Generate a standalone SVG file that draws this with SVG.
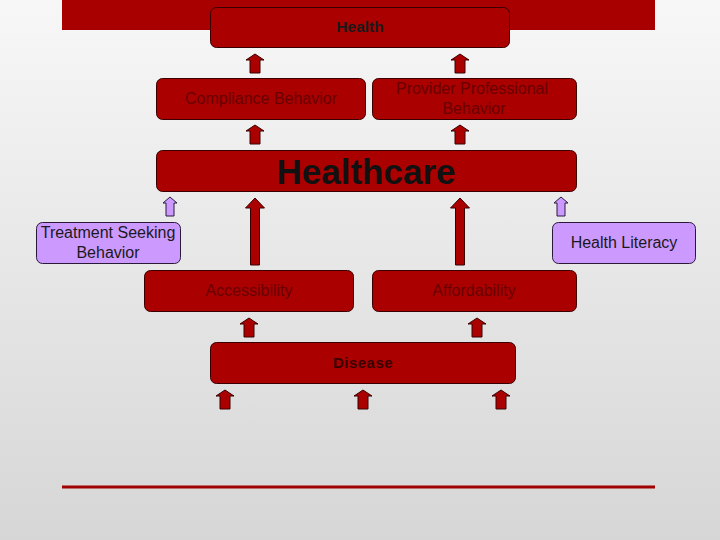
<svg xmlns="http://www.w3.org/2000/svg" width="720" height="540" viewBox="0 0 720 540">
<defs>
<linearGradient id="bg" x1="0" y1="0" x2="0" y2="1">
<stop offset="0" stop-color="#f7f7f7"/>
<stop offset="1" stop-color="#d6d6d6"/>
</linearGradient>
<path id="sa" d="M0,0 L9,6 L5,6 L5,19 L-5,19 L-5,6 L-9,6 Z"/>
<path id="pa" d="M0,0 L7,6 L4,6 L4,19 L-4,19 L-4,6 L-7,6 Z"/>
<path id="ta" d="M0,0 L9.5,10 L4.5,10 L4.5,67 L-4.5,67 L-4.5,10 L-9.5,10 Z"/>
</defs>
<style>
.red{fill:#aa0000;stroke:#3a0000;stroke-width:1}
.pur{fill:#cc99ff;stroke:#2a1a3a;stroke-width:1}
.arr{fill:#aa0000;stroke:#3a0000;stroke-width:1}
.parr{fill:#cc99ff;stroke:#2a1a3a;stroke-width:1}
text{font-family:"Liberation Sans",Arial,sans-serif;text-anchor:middle}
.dk{fill:#680000;font-size:16px}
.bk{fill:#1a1a1a;font-size:16px}
</style>
<rect width="720" height="540" fill="url(#bg)"/>
<rect x="62" y="0" width="593" height="30" fill="#a80000"/>
<rect x="62" y="485.5" width="593" height="3" fill="#a00000"/>
<g id="connectors">
<use href="#sa" x="255" y="54" class="arr"/>
<use href="#sa" x="460" y="54" class="arr"/>
<use href="#sa" x="255" y="125" class="arr"/>
<use href="#sa" x="460" y="125" class="arr"/>
<use href="#pa" x="170" y="197" class="parr"/>
<use href="#pa" x="561" y="197" class="parr"/>
<use href="#ta" x="255" y="198" class="arr"/>
<use href="#ta" x="460" y="198" class="arr"/>
<use href="#sa" x="249" y="318" class="arr"/>
<use href="#sa" x="477" y="318" class="arr"/>
<use href="#sa" x="225" y="390" class="arr"/>
<use href="#sa" x="363" y="390" class="arr"/>
<use href="#sa" x="501" y="390" class="arr"/>
</g>
<g id="health">
<rect x="210.5" y="7.5" width="299" height="40" rx="6" class="red"/>
<text x="360" y="32" class="bk" style="font-weight:bold;font-size:15.5px">Health</text>
</g>
<g id="compliance">
<rect x="156.5" y="78.5" width="209" height="41" rx="6" class="red"/>
<text x="261" y="104" class="dk">Compliance Behavior</text>
</g>
<g id="provider">
<rect x="372.5" y="78.5" width="204" height="41" rx="6" class="red"/>
<text x="472" y="94" class="dk">Provider Professional</text>
<text x="474" y="114" class="dk">Behavior</text>
</g>
<g id="healthcare">
<rect x="156.5" y="150.5" width="420" height="41" rx="6" class="red"/>
<text x="366" y="184" style="font-size:35px;font-weight:bold;fill:#111">Healthcare</text>
</g>
<g id="treatment">
<rect x="36.5" y="222.5" width="144" height="41" rx="6" class="pur"/>
<text x="108" y="238" class="bk">Treatment Seeking</text>
<text x="108" y="258" class="bk">Behavior</text>
</g>
<g id="literacy">
<rect x="552.5" y="222.5" width="143" height="41" rx="6" class="pur"/>
<text x="624" y="248" class="bk">Health Literacy</text>
</g>
<g id="accessibility">
<rect x="144.5" y="270.5" width="209" height="41" rx="6" class="red"/>
<text x="249" y="296" class="dk">Accessibility</text>
</g>
<g id="affordability">
<rect x="372.5" y="270.5" width="204" height="41" rx="6" class="red"/>
<text x="474" y="296" class="dk">Affordability</text>
</g>
<g id="disease">
<rect x="210.5" y="342.5" width="305" height="41" rx="6" class="red"/>
<text x="363" y="368" class="bk" style="font-weight:bold;fill:#3a0000;font-size:15px;letter-spacing:0.5px">Disease</text>
</g>
</svg>
